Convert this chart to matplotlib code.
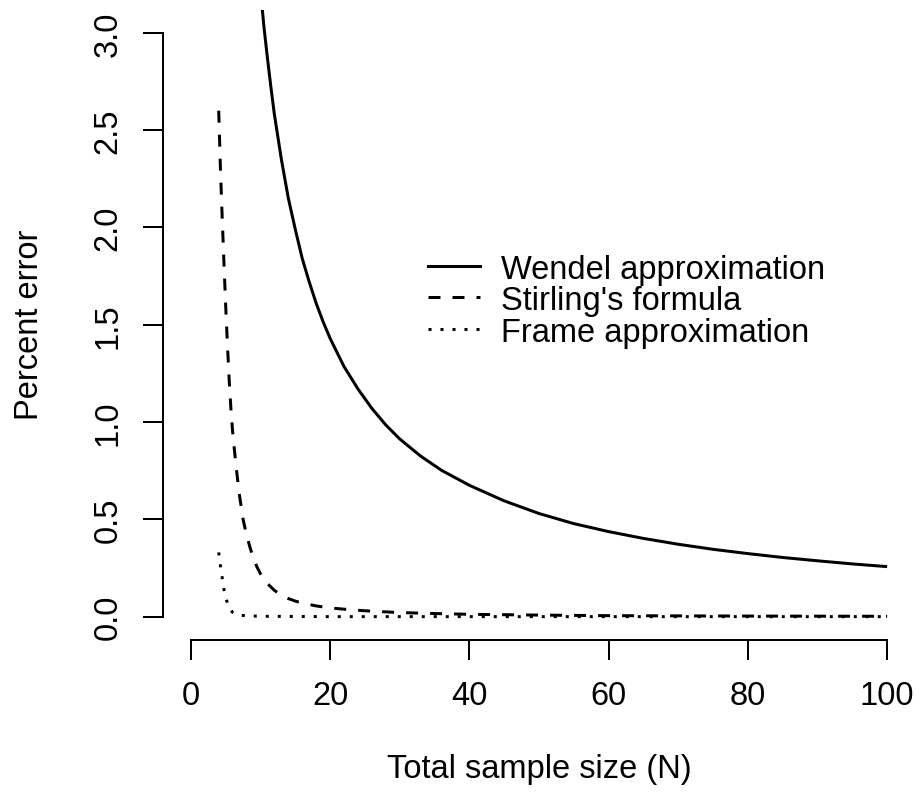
import matplotlib
matplotlib.use("Agg")
import matplotlib.pyplot as plt
from matplotlib.lines import Line2D

plt.rcParams['font.family'] = ['Liberation Sans', 'DejaVu Sans']

# ---- data ----
wendel_N = [10, 10.5, 11, 11.5, 12, 13, 14, 15, 16, 17, 18, 19, 20, 22, 24, 26, 28, 30, 33, 36,
            40, 45, 50, 55, 60, 65, 70, 75, 80, 85, 90, 95, 100]
wendel_err = [3.22, 3.03, 2.87, 2.72, 2.58, 2.35, 2.15, 1.99, 1.84, 1.72, 1.61, 1.515, 1.43, 1.285,
              1.17, 1.07, 0.985, 0.913, 0.825, 0.752, 0.675, 0.595, 0.53, 0.478, 0.437, 0.402,
              0.372, 0.346, 0.324, 0.304, 0.287, 0.271, 0.257]

stirling_N = [4, 4.25, 4.5, 4.75, 5, 5.25, 5.5, 5.75, 6, 6.5, 7, 7.5, 8, 8.5, 9, 9.5, 10, 11, 12,
              13, 14, 15, 16, 18, 20, 23, 26, 30, 35, 40, 50, 60, 80, 100]
stirling_err = [2.6, 2.3, 2.05, 1.82, 1.6, 1.4, 1.22, 1.07, 0.95, 0.77, 0.62, 0.5, 0.42, 0.355,
                0.3, 0.255, 0.22, 0.17, 0.135, 0.11, 0.093, 0.08, 0.07, 0.055, 0.045, 0.035,
                0.028, 0.021, 0.016, 0.012, 0.008, 0.005, 0.003, 0.002]

frame_N = [4, 4.25, 4.5, 4.75, 5, 5.25, 5.5, 5.75, 6, 6.5, 7, 8, 10, 15, 20, 30, 40, 60, 80, 100]
frame_err = [0.33, 0.26, 0.2, 0.14, 0.1, 0.07, 0.047, 0.032, 0.022, 0.012, 0.008, 0.004, 0.002,
             0.001, 0, 0, 0, 0, 0, 0]

series_labels = ["Wendel approximation", "Stirling's formula", "Frame approximation"]
x_ticks = [0, 20, 40, 60, 80, 100]
y_ticks = [0.0, 0.5, 1.0, 1.5, 2.0, 2.5, 3.0]
y_ticklabels = ["0.0", "0.5", "1.0", "1.5", "2.0", "2.5", "3.0"]
xlabel = "Total sample size (N)"
ylabel = "Percent error"

# ---- figure ----
W, H = 921, 804
fig = plt.figure(figsize=(W / 100, H / 100), dpi=100)
left, right, bottom, top = 163, 915, 641, 10.5
ax = fig.add_axes([left / W, 1 - bottom / H, (right - left) / W, (bottom - top) / H])

FS = 23.5
LW = 2.16  # 3 px

ax.plot(wendel_N, wendel_err, color='black', lw=LW, solid_capstyle='butt', solid_joinstyle='round')
ax.plot(stirling_N, stirling_err, color='black', lw=LW, dashes=(4, 4))
ax.plot(frame_N, frame_err, color='black', lw=LW, dashes=(1, 3))

ax.set_xlim(-4, 104)
ax.set_ylim(-0.12, 3.12)

for s in ['top', 'right']:
    ax.spines[s].set_visible(False)
ax.spines['left'].set_bounds(0, 3)
ax.spines['bottom'].set_bounds(0, 100)
ax.spines['left'].set_linewidth(1.44)
ax.spines['bottom'].set_linewidth(1.44)

ax.set_xticks(x_ticks)
ax.set_xticklabels([str(v) for v in x_ticks])
ax.set_yticks(y_ticks)
ax.set_yticklabels(y_ticklabels, rotation=90, va='center')
ax.tick_params(axis='both', direction='out', length=14.5, width=1.44, labelsize=FS, pad=14)

fig.text(30 / W, 1 - 325 / H, ylabel, rotation=90, ha='center', va='center', fontsize=FS)
fig.text(539 / W, 1 - 770 / H, xlabel, ha='center', va='center', fontsize=FS)

# ---- legend (no box) ----
leg_rows = [266.7, 298.3, 330.0]
leg_styles = [dict(), dict(dashes=(4, 4)), dict(dashes=(1, 3))]
for yrow, lab, st in zip(leg_rows, series_labels, leg_styles):
    yf = 1 - yrow / H
    fig.add_artist(Line2D([428 / W, 480 / W], [yf, yf], transform=fig.transFigure,
                          color='black', lw=LW, **st))
    fig.text(501 / W, yf, lab, ha='left', va='center_baseline', fontsize=FS)

fig.savefig("out.png", dpi=100)
